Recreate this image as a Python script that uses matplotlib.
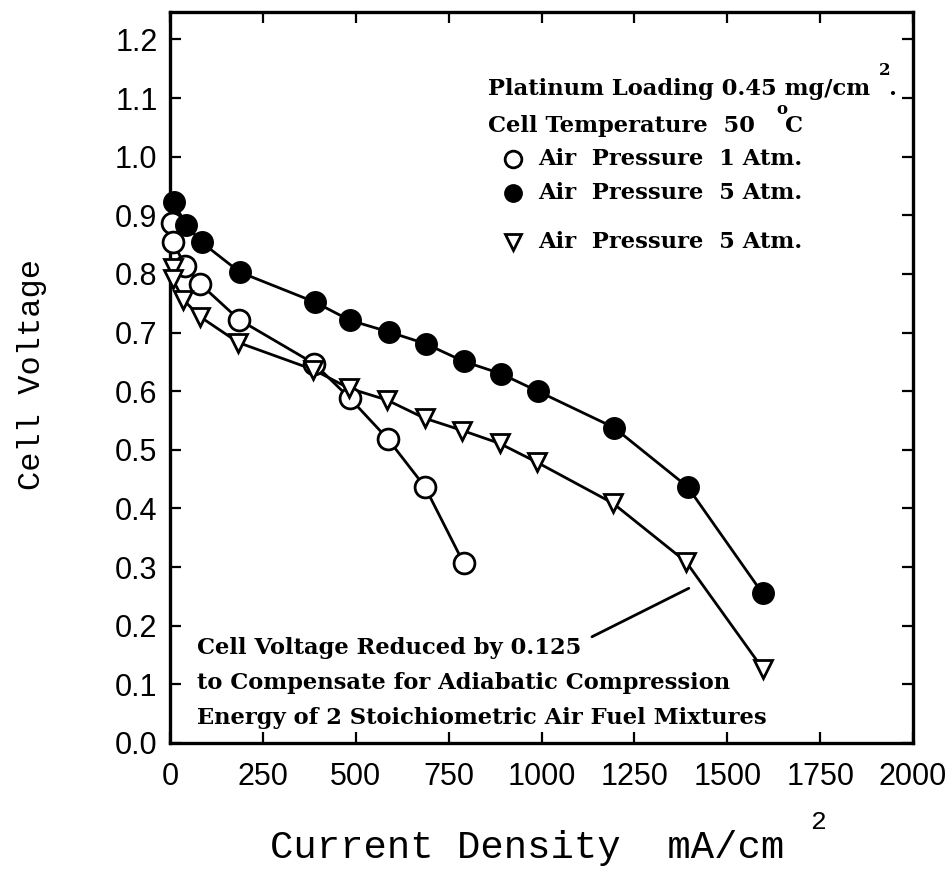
import matplotlib
matplotlib.use('Agg')
import matplotlib.pyplot as plt

# data (current density mA/cm2, cell voltage V)
x_open = [6, 8, 40, 81, 186, 388, 484, 587, 686, 790]
y_open = [0.887, 0.855, 0.814, 0.783, 0.722, 0.647, 0.588, 0.518, 0.437, 0.307]

x_filled = [10, 43, 85, 188, 390, 484, 590, 688, 790, 890, 990, 1195, 1393, 1595]
y_filled = [0.922, 0.884, 0.854, 0.803, 0.752, 0.721, 0.701, 0.681, 0.651, 0.630,
            0.600, 0.538, 0.437, 0.255]

x_tri = [7, 7, 36, 81, 184, 385, 482, 584, 685, 787, 887, 987, 1192, 1389, 1595]
y_tri = [0.810, 0.791, 0.756, 0.727, 0.683, 0.637, 0.605, 0.585, 0.554, 0.533,
         0.511, 0.479, 0.409, 0.309, 0.127]

x_ticks = [0, 250, 500, 750, 1000, 1250, 1500, 1750, 2000]
y_ticks = [0.0, 0.1, 0.2, 0.3, 0.4, 0.5, 0.6, 0.7, 0.8, 0.9, 1.0, 1.1, 1.2]

legend_rows = ['Air  Pressure  1 Atm.', 'Air  Pressure  5 Atm.', 'Air  Pressure  5 Atm.']
note_lines = ['Cell Voltage Reduced by 0.125',
              'to Compensate for Adiabatic Compression',
              'Energy of 2 Stoichiometric Air Fuel Mixtures']

serif = 'DejaVu Serif'
mono = 'Liberation Mono'
fs = 16.3

fig = plt.figure(figsize=(9.51, 8.71), dpi=100)
ax = fig.add_axes([0.1788, 0.1470, 0.7813, 0.8393])

lw = 2.0
ax.plot(x_open, y_open, '-', color='black', lw=lw, zorder=2)
ax.plot(x_open, y_open, 'o', ms=15, mfc='white', mec='black', mew=2.0, zorder=3,
        clip_on=False)
ax.plot(x_filled, y_filled, '-', color='black', lw=lw, zorder=2)
ax.plot(x_filled, y_filled, 'o', ms=15.5, mfc='black', mec='black', zorder=3,
        clip_on=False)
ax.plot(x_tri, y_tri, '-', color='black', lw=lw, zorder=2)
ax.plot(x_tri, y_tri, 'v', ms=13.5, mfc='white', mec='black', mew=2.0, zorder=3,
        clip_on=False)

ax.set_xlim(0, 2000)
ax.set_ylim(0, 1.247)
ax.set_xticks(x_ticks)
ax.set_yticks(y_ticks)
ax.set_yticklabels([f'{v:.1f}' for v in y_ticks])
ax.tick_params(direction='in', length=8, width=1.6, top=True, right=True,
               labelsize=22, pad=9)
ax.tick_params(axis='x', pad=14)
for lab in ax.get_xticklabels() + ax.get_yticklabels():
    lab.set_family('Liberation Sans')
for sp in ax.spines.values():
    sp.set_linewidth(2.4)

# legend block (top right)
ax.text(0.428, 0.8865, 'Platinum Loading 0.45 mg/cm', transform=ax.transAxes,
        family=serif, weight='bold', fontsize=fs, va='baseline')
ax.text(0.962, 0.920, '2', transform=ax.transAxes, family=serif, weight='bold',
        fontsize=12, va='center', ha='center')
ax.text(0.966, 0.8865, '.', transform=ax.transAxes, family=serif, weight='bold',
        fontsize=fs, va='baseline')
ax.text(0.428, 0.836, 'Cell Temperature  50', transform=ax.transAxes,
        family=serif, weight='bold', fontsize=fs, va='baseline')
ax.text(0.824, 0.866, 'o', transform=ax.transAxes, family=serif, weight='bold',
        fontsize=12, va='center', ha='center')
ax.text(0.828, 0.836, 'C', transform=ax.transAxes, family=serif, weight='bold',
        fontsize=fs, va='baseline')

row_y = [0.799, 0.752, 0.685]
ax.plot(0.4617, row_y[0], 'o', ms=12, mfc='white', mec='black', mew=2.0,
        transform=ax.transAxes, clip_on=False)
ax.plot(0.4617, row_y[1], 'o', ms=12.5, mfc='black', mec='black',
        transform=ax.transAxes, clip_on=False)
ax.plot(0.4617, row_y[2], 'v', ms=12, mfc='white', mec='black', mew=2.0,
        transform=ax.transAxes, clip_on=False)
for ry, lab in zip(row_y, legend_rows):
    ax.text(0.495, ry, lab, transform=ax.transAxes, family=serif, weight='bold',
            fontsize=fs, va='center')

# note at the bottom left with its pointer line
for ny, lab in zip([0.130, 0.082, 0.034], note_lines):
    ax.text(0.0363, ny, lab, transform=ax.transAxes, family=serif, weight='bold',
            fontsize=fs, va='center')
ax.annotate('', xy=(1403, 0.266), xytext=(1129, 0.179),
            arrowprops=dict(arrowstyle='-', lw=2.0, color='black'))

# axis titles
fig.text(0.554, 0.0264, 'Current Density  mA/cm', family=mono, fontsize=28,
         ha='center', va='center')
fig.text(0.860, 0.056, '2', family=mono, fontsize=19, ha='center', va='center')
fig.text(0.0336, 0.5706, 'Cell Voltage', family=mono, fontsize=23,
         rotation=90, ha='center', va='center')

fig.savefig('out.png', dpi=100)
